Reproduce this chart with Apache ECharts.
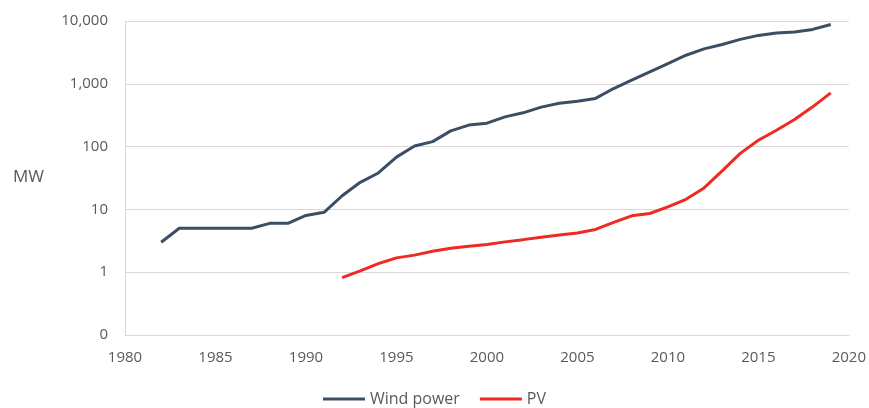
<!DOCTYPE html>
<html>
<head>
<meta charset="utf-8">
<script src="https://cdn.jsdelivr.net/npm/echarts@6/dist/echarts.min.js"></script>
<style>
  html, body { margin: 0; padding: 0; background: #fff; }
  #chart { width: 869px; height: 408px; }
</style>
</head>
<body>
<div id="chart"></div>
<script>
// years and values (MW)
const windYears = [1982, 1983, 1984, 1985, 1986, 1987, 1988, 1989, 1990, 1991,
  1992, 1993, 1994, 1995, 1996, 1997, 1998, 1999, 2000, 2001,
  2002, 2003, 2004, 2005, 2006, 2007, 2008, 2009, 2010, 2011,
  2012, 2013, 2014, 2015, 2016, 2017, 2018, 2019];
const windValues = [3, 5, 5, 5, 5, 5, 6, 6, 8, 9,
  16.5, 27, 38, 68, 102, 120, 178, 220, 236, 297,
  345, 425, 490, 527, 585, 840, 1140, 1550, 2100, 2850,
  3600, 4230, 5100, 5900, 6450, 6700, 7350, 8800];

const pvYears = [1992, 1993, 1994, 1995, 1996, 1997, 1998, 1999, 2000, 2001,
  2002, 2003, 2004, 2005, 2006, 2007, 2008, 2009, 2010, 2011,
  2012, 2013, 2014, 2015, 2016, 2017, 2018, 2019];
const pvValues = [0.82, 1.05, 1.37, 1.69, 1.87, 2.16, 2.41, 2.6, 2.76, 3.04,
  3.3, 3.6, 3.9, 4.2, 4.8, 6.2, 7.9, 8.6, 11, 14.5,
  22, 41, 78, 126, 182, 270, 430, 716];

const seriesNames = ["Wind power", "PV"];
const yTicks = [0.1, 1, 10, 100, 1000, 10000];

const textColor = "#595959";
const gridColor = "#d9d9d9";
const font = "'Open Sans', sans-serif";

const myChart = echarts.init(document.getElementById("chart"));

const option = {
  animation: false,
  grid: { left: 125, right: 18, top: 21, bottom: 73 },
  legend: {
    data: seriesNames,
    top: 386,
    left: "center",
    itemWidth: 42,
    itemHeight: 3,
    itemGap: 20,
    icon: "rect",
    textStyle: { color: textColor, fontSize: 16, fontFamily: font }
  },
  graphic: [
    {
      type: "text",
      left: 13,
      top: 169,
      style: { text: "MW", fill: textColor, font: "17px " + font }
    }
  ],
  xAxis: {
    type: "value",
    min: 1980,
    max: 2020,
    interval: 5,
    axisLine: { show: true, lineStyle: { color: gridColor, width: 1 } },
    axisTick: { show: false },
    splitLine: { show: false },
    axisLabel: {
      color: textColor,
      fontSize: 15,
      fontFamily: font,
      margin: 15,
      formatter: v => String(v)
    }
  },
  yAxis: {
    type: "log",
    logBase: 10,
    min: yTicks[0],
    max: yTicks[yTicks.length - 1],
    axisLine: { show: true, lineStyle: { color: gridColor, width: 1 } },
    axisTick: { show: false },
    splitLine: { show: true, lineStyle: { color: gridColor, width: 1 } },
    axisLabel: {
      color: textColor,
      fontSize: 15,
      fontFamily: font,
      margin: 17,
      formatter: v => (v < 1 ? "0" : Math.round(v).toLocaleString("en-US"))
    }
  },
  series: [
    {
      name: seriesNames[0],
      type: "line",
      data: windYears.map((y, i) => [y, windValues[i]]),
      symbol: "none",
      lineStyle: { color: "#3b4e63", width: 3 },
      itemStyle: { color: "#3b4e63" }
    },
    {
      name: seriesNames[1],
      type: "line",
      data: pvYears.map((y, i) => [y, pvValues[i]]),
      symbol: "none",
      lineStyle: { color: "#ee2a22", width: 3 },
      itemStyle: { color: "#ee2a22" }
    }
  ]
};

myChart.setOption(option);
</script>
</body>
</html>
